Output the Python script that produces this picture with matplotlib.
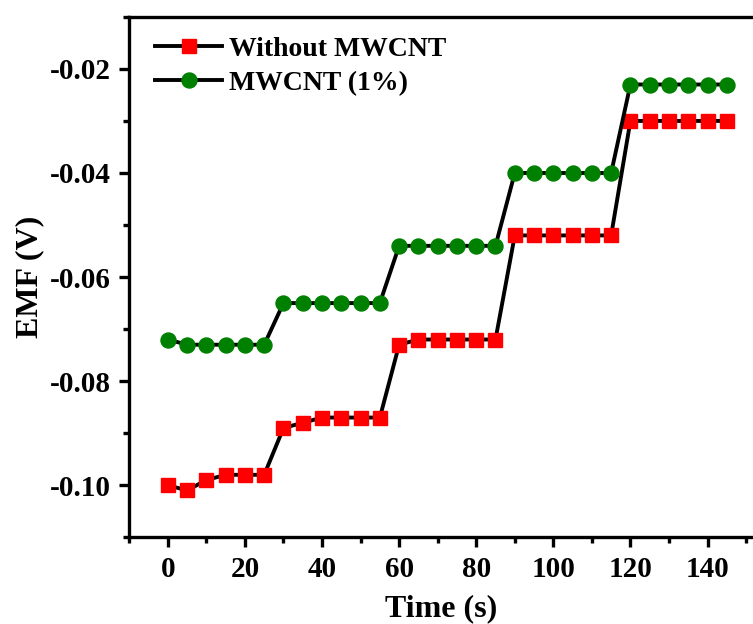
import matplotlib
matplotlib.use("Agg")
import matplotlib.pyplot as plt
from matplotlib.ticker import MultipleLocator

plt.rcParams['font.family'] = ['Liberation Serif', 'DejaVu Serif']
plt.rcParams['font.weight'] = 'bold'

time_s = [0, 5, 10, 15, 20, 25, 30, 35, 40, 45, 50, 55, 60, 65, 70, 75, 80, 85,
          90, 95, 100, 105, 110, 115, 120, 125, 130, 135, 140, 145]

emf_without = [-0.100, -0.101, -0.099, -0.098, -0.098, -0.098,
               -0.089, -0.088, -0.087, -0.087, -0.087, -0.087,
               -0.073, -0.072, -0.072, -0.072, -0.072, -0.072,
               -0.052, -0.052, -0.052, -0.052, -0.052, -0.052,
               -0.030, -0.030, -0.030, -0.030, -0.030, -0.030]

emf_mwcnt = [-0.072, -0.073, -0.073, -0.073, -0.073, -0.073,
             -0.065, -0.065, -0.065, -0.065, -0.065, -0.065,
             -0.054, -0.054, -0.054, -0.054, -0.054, -0.054,
             -0.040, -0.040, -0.040, -0.040, -0.040, -0.040,
             -0.023, -0.023, -0.023, -0.023, -0.023, -0.023]

series_labels = ['Without MWCNT', 'MWCNT (1%)']
x_ticks = [0, 20, 40, 60, 80, 100, 120, 140]
y_ticks = [-0.10, -0.08, -0.06, -0.04, -0.02]

fig = plt.figure(figsize=(7.53, 6.24), dpi=100)
ax = fig.add_axes([0.1717, 0.139, 1.0 - 0.1717, 0.973 - 0.139])

ax.plot(time_s, emf_without, color='black', lw=2.8, marker='s', ms=9.8,
        mfc='#ff0000', mec='#ff0000', label=series_labels[0], zorder=3)
ax.plot(time_s, emf_mwcnt, color='black', lw=2.8, marker='o', ms=10.8,
        mfc='#008000', mec='#008000', label=series_labels[1], zorder=3)

ax.set_xlim(-10, 151.8)
ax.set_ylim(-0.11, -0.01)
ax.set_xticks(x_ticks)
ax.set_yticks(y_ticks)
ax.set_yticklabels([f"{v:.2f}" for v in y_ticks])
ax.xaxis.set_minor_locator(MultipleLocator(10))
ax.yaxis.set_minor_locator(MultipleLocator(0.01))

for side in ['left', 'bottom', 'top']:
    ax.spines[side].set_linewidth(2.4)
ax.spines['right'].set_visible(False)

ax.tick_params(which='major', direction='out', length=7.5, width=2.4,
               labelsize=21, pad=6)
ax.tick_params(which='minor', direction='out', length=4.5, width=2.4)
ax.tick_params(top=False, right=False, which='both')

ax.set_xlabel('Time (s)', fontsize=23, fontweight='bold', labelpad=8)
ax.set_ylabel('EMF (V)', fontsize=23, fontweight='bold', labelpad=4)

leg = ax.legend(loc='upper left', bbox_to_anchor=(0.042, 0.962), frameon=False,
                fontsize=20, handlelength=2.4, handletextpad=0.25,
                labelspacing=0.3, borderaxespad=0.0, borderpad=0.0)
for t in leg.get_texts():
    t.set_fontweight('bold')

fig.savefig('out.png', dpi=100)
